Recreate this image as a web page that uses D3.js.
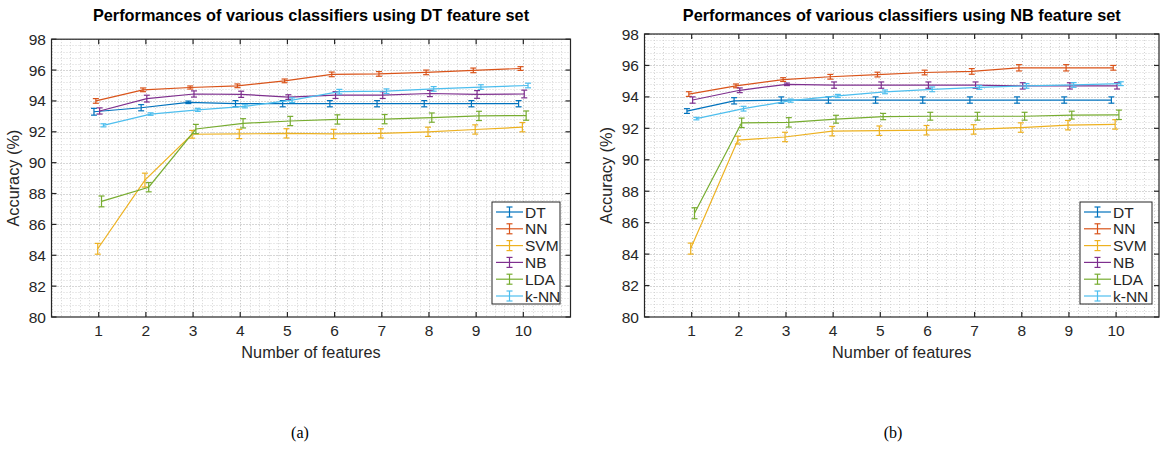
<!DOCTYPE html>
<html>
<head>
<meta charset="utf-8">
<script src="https://cdn.jsdelivr.net/npm/d3@7/dist/d3.min.js"></script>
<style>
  html, body { margin: 0; padding: 0; background: #fff; }
  svg { display: block; }
  text { font-family: "Liberation Sans", Arial, Helvetica, sans-serif; fill: #262626; }
</style>
</head>
<body>
<svg id="fig" width="1163" height="449"></svg>
<script>
// ---- data -------------------------------------------------------------
const features = [1, 2, 3, 4, 5, 6, 7, 8, 9, 10];
const classifiers = ["DT", "NN", "SVM", "NB", "LDA", "k-NN"];
const yTicks = [80, 82, 84, 86, 88, 90, 92, 94, 96, 98];

// (a) DT feature set: mean accuracy (%)
const dtA  = [93.30, 93.56, 93.91, 93.82, 93.82, 93.82, 93.82, 93.82, 93.82, 93.82];
const nnA  = [94.00, 94.72, 94.87, 94.98, 95.30, 95.72, 95.75, 95.85, 95.98, 96.10];
const svmA = [84.42, 88.87, 91.84, 91.86, 91.90, 91.86, 91.90, 92.00, 92.15, 92.30];
const nbA  = [93.35, 94.15, 94.45, 94.43, 94.25, 94.38, 94.38, 94.48, 94.42, 94.45];
const ldaA = [87.49, 88.41, 92.18, 92.55, 92.70, 92.80, 92.82, 92.92, 93.03, 93.05];
const knnA = [92.42, 93.15, 93.42, 93.65, 94.05, 94.60, 94.63, 94.78, 94.90, 95.00];
// (a) standard deviation (%)
const dtAErr  = [0.22, 0.20, 0.08, 0.20, 0.20, 0.20, 0.20, 0.20, 0.20, 0.20];
const nnAErr  = [0.15, 0.12, 0.10, 0.12, 0.12, 0.15, 0.15, 0.15, 0.15, 0.12];
const svmAErr = [0.35, 0.45, 0.25, 0.30, 0.30, 0.30, 0.30, 0.30, 0.30, 0.30];
const nbAErr  = [0.20, 0.22, 0.20, 0.20, 0.15, 0.22, 0.22, 0.20, 0.25, 0.25];
const ldaAErr = [0.35, 0.30, 0.30, 0.30, 0.30, 0.30, 0.30, 0.30, 0.30, 0.30];
const knnAErr = [0.10, 0.08, 0.10, 0.10, 0.15, 0.15, 0.15, 0.15, 0.15, 0.15];

// (b) NB feature set: mean accuracy (%)
const dtB  = [93.10, 93.75, 93.80, 93.80, 93.80, 93.80, 93.80, 93.80, 93.80, 93.80];
const nnB  = [94.18, 94.70, 95.10, 95.28, 95.42, 95.55, 95.62, 95.85, 95.85, 95.85];
const svmB = [84.35, 91.25, 91.45, 91.82, 91.85, 91.88, 91.93, 92.05, 92.20, 92.25];
const nbB  = [93.80, 94.42, 94.80, 94.75, 94.75, 94.75, 94.75, 94.70, 94.70, 94.70];
const ldaB = [86.60, 92.35, 92.38, 92.58, 92.75, 92.77, 92.77, 92.77, 92.84, 92.86];
const knnB = [92.62, 93.25, 93.76, 94.06, 94.32, 94.48, 94.60, 94.70, 94.76, 94.84];
// (b) standard deviation (%)
const dtBErr  = [0.15, 0.20, 0.20, 0.20, 0.20, 0.20, 0.20, 0.20, 0.20, 0.20];
const nnBErr  = [0.15, 0.12, 0.12, 0.15, 0.15, 0.15, 0.18, 0.20, 0.20, 0.15];
const svmBErr = [0.35, 0.25, 0.30, 0.30, 0.30, 0.30, 0.30, 0.30, 0.30, 0.30];
const nbBErr  = [0.20, 0.15, 0.08, 0.20, 0.20, 0.20, 0.20, 0.20, 0.20, 0.20];
const ldaBErr = [0.35, 0.30, 0.30, 0.25, 0.20, 0.25, 0.25, 0.25, 0.25, 0.30];
const knnBErr = [0.08, 0.15, 0.10, 0.10, 0.12, 0.15, 0.12, 0.15, 0.15, 0.12];

// ---- style -------------------------------------------------------------
const colors = ["#0072BD", "#D95319", "#EDB120", "#7E2F8E", "#77AC30", "#4DBEEE"];
// small horizontal shift per series so the error bars don't overlap
const dodge = [-0.10, -0.06, -0.02, 0.02, 0.06, 0.10];

const svg = d3.select("#fig");

function drawPanel(cfg) {
  const g = svg.append("g");
  const x = d3.scaleLinear().domain([0, cfg.xMax]).range([cfg.left, cfg.right]);
  const y = d3.scaleLinear().domain([80, 98]).range([cfg.bottom, cfg.top]);

  const clipId = "clip-" + cfg.id;
  svg.append("defs").append("clipPath").attr("id", clipId)
    .append("rect").attr("x", cfg.left).attr("y", cfg.top)
    .attr("width", cfg.right - cfg.left).attr("height", cfg.bottom - cfg.top);

  // grid (minor + major, dotted)
  const grid = g.append("g").attr("clip-path", `url(#${clipId})`);
  const xMinor = d3.range(0, cfg.xMax + 1e-9, 0.2);
  const yMinor = d3.range(80, 98 + 1e-9, 0.4);
  grid.selectAll(".gx").data(xMinor).join("line")
    .attr("x1", d => Math.round(x(d)) + 0.5).attr("x2", d => Math.round(x(d)) + 0.5)
    .attr("y1", cfg.top).attr("y2", cfg.bottom)
    .attr("stroke", "#d4d4d4").attr("stroke-width", 1).attr("stroke-dasharray", "1,2");
  grid.selectAll(".gy").data(yMinor).join("line")
    .attr("y1", d => Math.round(y(d)) + 0.5).attr("y2", d => Math.round(y(d)) + 0.5)
    .attr("x1", cfg.left).attr("x2", cfg.right)
    .attr("stroke", "#d4d4d4").attr("stroke-width", 1).attr("stroke-dasharray", "1,2");
  grid.selectAll(".gX").data(features).join("line")
    .attr("x1", d => Math.round(x(d)) + 0.5).attr("x2", d => Math.round(x(d)) + 0.5)
    .attr("y1", cfg.top).attr("y2", cfg.bottom)
    .attr("stroke", "#c4c4c4").attr("stroke-width", 1).attr("stroke-dasharray", "1,2");
  grid.selectAll(".gY").data(yTicks).join("line")
    .attr("y1", d => Math.round(y(d)) + 0.5).attr("y2", d => Math.round(y(d)) + 0.5)
    .attr("x1", cfg.left).attr("x2", cfg.right)
    .attr("stroke", "#c4c4c4").attr("stroke-width", 1).attr("stroke-dasharray", "1,2");

  // series: line + error bars
  const plot = g.append("g");
  cfg.series.forEach((s, i) => {
    const pts = features.map((f, k) => ({ f, v: s.values[k], e: s.err[k] }));
    const xp = d => x(d.f + dodge[i]);
    const line = d3.line().x(xp).y(d => y(d.v));
    const sg = plot.append("g").attr("stroke", colors[i]).attr("fill", "none").attr("stroke-width", 1.2);
    sg.append("path").attr("d", line(pts));
    const cap = 3;
    const eb = sg.selectAll(".eb").data(pts).join("g");
    eb.append("line").attr("x1", xp).attr("x2", xp)
      .attr("y1", d => y(d.v - d.e)).attr("y2", d => y(d.v + d.e));
    eb.append("line").attr("x1", d => xp(d) - cap).attr("x2", d => xp(d) + cap)
      .attr("y1", d => y(d.v - d.e)).attr("y2", d => y(d.v - d.e));
    eb.append("line").attr("x1", d => xp(d) - cap).attr("x2", d => xp(d) + cap)
      .attr("y1", d => y(d.v + d.e)).attr("y2", d => y(d.v + d.e));
  });

  // axes box with inward ticks on all sides
  const axisColor = "#262626";
  const box = g.append("g").attr("stroke", axisColor).attr("stroke-width", 1.2).attr("fill", "none");
  box.append("rect").attr("x", cfg.left).attr("y", cfg.top)
    .attr("width", cfg.right - cfg.left).attr("height", cfg.bottom - cfg.top);
  const tl = 5;
  box.selectAll(".tb").data(features).join("line")
    .attr("x1", d => x(d)).attr("x2", d => x(d)).attr("y1", cfg.bottom).attr("y2", cfg.bottom - tl);
  box.selectAll(".tt").data(features).join("line")
    .attr("x1", d => x(d)).attr("x2", d => x(d)).attr("y1", cfg.top).attr("y2", cfg.top + tl);
  box.selectAll(".tlft").data(yTicks).join("line")
    .attr("y1", d => y(d)).attr("y2", d => y(d)).attr("x1", cfg.left).attr("x2", cfg.left + tl);
  box.selectAll(".trgt").data(yTicks).join("line")
    .attr("y1", d => y(d)).attr("y2", d => y(d)).attr("x1", cfg.right).attr("x2", cfg.right - tl);

  // tick labels
  g.selectAll(".xl").data(features).join("text")
    .attr("x", d => x(d)).attr("y", cfg.bottom + 18.5)
    .attr("text-anchor", "middle").attr("font-size", 15.5).text(d => d);
  g.selectAll(".yl").data(yTicks).join("text")
    .attr("x", cfg.left - 5.5).attr("y", d => y(d) + 5.5)
    .attr("text-anchor", "end").attr("font-size", 15.5).text(d => d);

  // axis titles
  g.append("text").attr("x", (cfg.left + cfg.right) / 2).attr("y", cfg.bottom + 41)
    .attr("text-anchor", "middle").attr("font-size", 16.3).text("Number of features");
  g.append("text")
    .attr("transform", `translate(${cfg.left - 33},${(cfg.top + cfg.bottom) / 2}) rotate(-90)`)
    .attr("text-anchor", "middle").attr("font-size", 16.3).text("Accuracy (%)");
  g.append("text").attr("x", (cfg.left + cfg.right) / 2).attr("y", 20.5)
    .attr("text-anchor", "middle").attr("font-size", 16.3).attr("font-weight", "bold")
    .style("fill", "#000").text(cfg.title);

  // legend
  const lg = g.append("g").attr("transform", `translate(${cfg.legendX},${cfg.legendY})`);
  const rowH = 16.8;
  lg.append("rect").attr("x", 0).attr("y", 0).attr("width", cfg.legendW).attr("height", 102)
    .attr("fill", "#fff").attr("stroke", axisColor).attr("stroke-width", 1);
  classifiers.forEach((name, i) => {
    const cy = 10 + i * rowH;
    const r = lg.append("g").attr("stroke", colors[i]).attr("stroke-width", 1.2);
    r.append("line").attr("x1", 4).attr("x2", 31).attr("y1", cy).attr("y2", cy);
    r.append("line").attr("x1", 17.5).attr("x2", 17.5).attr("y1", cy - 5).attr("y2", cy + 5);
    r.append("line").attr("x1", 14.5).attr("x2", 20.5).attr("y1", cy - 5).attr("y2", cy - 5);
    r.append("line").attr("x1", 14.5).attr("x2", 20.5).attr("y1", cy + 5).attr("y2", cy + 5);
    lg.append("text").attr("x", 33).attr("y", cy + 5.5).attr("font-size", 15.5).text(name);
  });

  // sub-figure caption
  svg.append("text").attr("x", cfg.captionX).attr("y", 438)
    .attr("text-anchor", "middle").attr("font-size", 16)
    .style("font-family", '"Liberation Serif", "DejaVu Serif", serif')
    .style("fill", "#000").text(cfg.caption);
}

drawPanel({
  id: "a", title: "Performances of various classifiers using DT feature set",
  left: 51.5, right: 570.5, top: 39.2, bottom: 317, xMax: 11,
  legendX: 492, legendY: 202, legendW: 68,
  caption: "(a)", captionX: 300,
  series: [
    { values: dtA, err: dtAErr }, { values: nnA, err: nnAErr }, { values: svmA, err: svmAErr },
    { values: nbA, err: nbAErr }, { values: ldaA, err: ldaAErr }, { values: knnA, err: knnAErr }
  ]
});

drawPanel({
  id: "b", title: "Performances of various classifiers using NB feature set",
  left: 644.5, right: 1159, top: 34, bottom: 317, xMax: 10.91,
  legendX: 1080, legendY: 202, legendW: 72,
  caption: "(b)", captionX: 893,
  series: [
    { values: dtB, err: dtBErr }, { values: nnB, err: nnBErr }, { values: svmB, err: svmBErr },
    { values: nbB, err: nbBErr }, { values: ldaB, err: ldaBErr }, { values: knnB, err: knnBErr }
  ]
});
</script>
</body>
</html>
